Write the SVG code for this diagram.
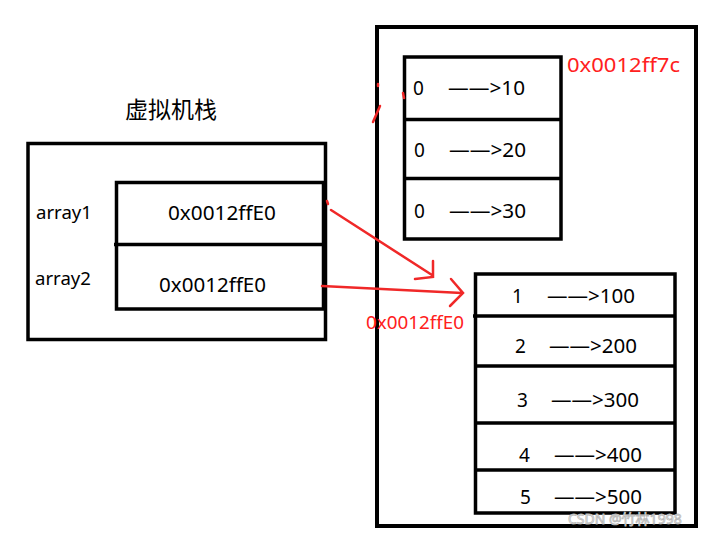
<svg xmlns="http://www.w3.org/2000/svg" width="715" height="537" viewBox="0 0 715 537">
<style>
.box{fill:none;stroke:#000;stroke-width:3.5}
.ln{stroke:#000;stroke-width:3.5}
.t{font-family:"Noto Sans","Liberation Sans","Noto Sans CJK SC",sans-serif;font-size:19px;fill:#000}
.s{font-size:18px}
.r{fill:#ff2020}
.red{stroke:#f02828;stroke-width:2.5;fill:none;stroke-linecap:round}
.wm{font-family:"Noto Sans","Noto Sans CJK SC",sans-serif;font-size:14px;fill:#fff;stroke:#b8b8b8;stroke-width:0.8}
</style>
<rect width="715" height="537" fill="#fff"/>

<g id="stack-title">
<text x="171" y="118" style="font-size:23px;font-family:'Noto Sans CJK SC',sans-serif" text-anchor="middle">虚拟机栈</text>
</g>

<g id="stack">
<rect class="box" x="28" y="143.5" width="297.5" height="196"/>
<rect class="box" x="116.5" y="182.5" width="207" height="126.5"/>
<line class="ln" x1="114" y1="244.5" x2="323.5" y2="244.5"/>
<text class="t s" x="36" y="219" textLength="56" lengthAdjust="spacingAndGlyphs">array1</text>
<text class="t s" x="35" y="285" textLength="56" lengthAdjust="spacingAndGlyphs">array2</text>
<text class="t" x="168" y="220" textLength="108" lengthAdjust="spacingAndGlyphs">0x0012ffE0</text>
<text class="t" x="159" y="292" textLength="107" lengthAdjust="spacingAndGlyphs">0x0012ffE0</text>
</g>

<g id="heap">
<rect class="box" x="377" y="27" width="319" height="499" style="stroke-width:4"/>
</g>

<g id="array-a">
<rect class="box" x="404.5" y="57" width="156.5" height="182"/>
<line class="ln" x1="404.5" y1="119.5" x2="561" y2="119.5"/>
<line class="ln" x1="404.5" y1="178.5" x2="561" y2="178.5"/>
<text class="t r" x="567" y="72" textLength="113" lengthAdjust="spacingAndGlyphs">0x0012ff7c</text>
<text class="t" x="413" y="95">0</text>
<text class="t" x="448" y="95" textLength="77" lengthAdjust="spacingAndGlyphs">——&gt;10</text>
<text class="t" x="414" y="157">0</text>
<text class="t" x="449" y="157" textLength="77" lengthAdjust="spacingAndGlyphs">——&gt;20</text>
<text class="t" x="414" y="218">0</text>
<text class="t" x="449" y="218" textLength="77" lengthAdjust="spacingAndGlyphs">——&gt;30</text>
</g>

<g id="array-b">
<rect class="box" x="475.5" y="274" width="199.5" height="239"/>
<line class="ln" x1="473" y1="316" x2="675" y2="316"/>
<line class="ln" x1="475.5" y1="366" x2="675" y2="366"/>
<line class="ln" x1="475.5" y1="423" x2="675" y2="423"/>
<line class="ln" x1="475.5" y1="470" x2="675" y2="470"/>
<text class="t r" x="366" y="329" textLength="98" lengthAdjust="spacingAndGlyphs" style="font-size:18px">0x0012ffE0</text>
<text class="t" x="512" y="303">1</text>
<text class="t" x="547" y="303" textLength="88" lengthAdjust="spacingAndGlyphs">——&gt;100</text>
<text class="t" x="515" y="353">2</text>
<text class="t" x="549" y="353" textLength="88" lengthAdjust="spacingAndGlyphs">——&gt;200</text>
<text class="t" x="517" y="407">3</text>
<text class="t" x="551" y="407" textLength="88" lengthAdjust="spacingAndGlyphs">——&gt;300</text>
<text class="t" x="519" y="462">4</text>
<text class="t" x="554" y="462" textLength="88" lengthAdjust="spacingAndGlyphs">——&gt;400</text>
<text class="t" x="520" y="504">5</text>
<text class="t" x="554" y="504" textLength="88" lengthAdjust="spacingAndGlyphs">——&gt;500</text>
</g>

<g id="connectors">
<line class="red" x1="327" y1="201" x2="328" y2="204"/>
<path class="red" d="M331 210 L432 275 M433 261 L433 277 L415 279"/>
<path class="red" d="M322 286 L462 293 M451 279 L463 293 L450 306"/>
<path class="red" d="M373 122 L380 106 M378 84 L378 86 M403 93 L404 98"/>
</g>

<text class="wm" x="568" y="524">CSDN @竹林1998</text>
</svg>
